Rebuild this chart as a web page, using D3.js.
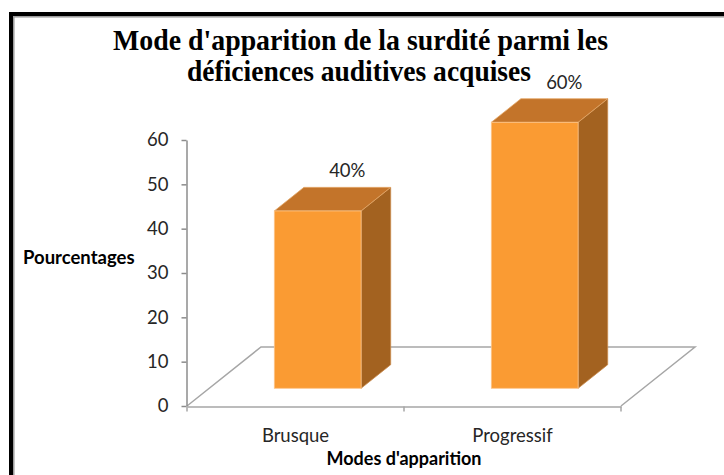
<!DOCTYPE html>
<html>
<head>
<meta charset="utf-8">
<script src="https://cdn.jsdelivr.net/npm/d3@7"></script>
<style>
  body { margin: 0; background: #fff; }
  svg { display: block; }
</style>
</head>
<body>
<div id="chart"></div>
<script>
var categories = ['Brusque', 'Progressif'];
var values = [40, 60];
var valueLabels = ['40%', '60%'];
var yTicks = [0, 10, 20, 30, 40, 50, 60];
var titleLines = ["Mode d'apparition de la surdité parmi les", 'déficiences auditives acquises'];

var width = 724, height = 475;
var floorDx = 74, floorDy = -59;   // depth of the 3D floor
var barFrom = 0.3, barTo = 0.7;    // bar depth inside the floor

var svg = d3.select('#chart').append('svg')
            .attr('width', width)
            .attr('height', height);

// frame (runs off the right and bottom edges)
svg.append('rect')
   .attr('x', 11).attr('y', 14)
   .attr('width', 800).attr('height', 600)
   .attr('fill', 'none')
   .attr('stroke', '#000')
   .attr('stroke-width', 4);
svg.append('rect')
   .attr('x', 13.8).attr('y', 16.8)
   .attr('width', 800).attr('height', 600)
   .attr('fill', 'none')
   .attr('stroke', '#9a9a9a')
   .attr('stroke-width', 1.5);

// title
svg.selectAll('.title')
   .data(titleLines)
   .enter()
   .append('text')
   .attr('class', 'title')
   .attr('x', function(d, i){ return i === 0 ? 113 : 187; })
   .attr('y', function(d, i){ return i === 0 ? 50 : 81; })
   .attr('textLength', function(d, i){ return i === 0 ? 495 : 344; })
   .attr('lengthAdjust', 'spacingAndGlyphs')
   .style('font-family', '"Liberation Serif", "Times New Roman", serif')
   .style('font-weight', 'bold')
   .style('font-size', '29px')
   .attr('fill', '#000')
   .text(function(d){ return d; });

var x = d3.scaleBand()
          .domain(categories)
          .range([187, 621])
          .paddingInner(0.6)
          .paddingOuter(0.3);

var y = d3.scaleLinear()
          .domain([0, 60])
          .range([406, 140]);

var x0 = x.range()[0], x1 = x.range()[1], y0 = y(0);

// floor outline
svg.append('path')
   .attr('d', 'M' + x0 + ',' + y0 +
              'L' + (x0 + floorDx) + ',' + (y0 + floorDy) +
              'L' + (x1 + floorDx) + ',' + (y0 + floorDy) +
              'L' + x1 + ',' + y0)
   .attr('fill', 'none')
   .attr('stroke', '#a6a6a6')
   .attr('stroke-width', 1.5);

// y axis
var yAxis = svg.append('g')
               .attr('transform', 'translate(186.5,0)')
               .call(d3.axisLeft(y).tickValues(yTicks).tickSize(5).tickSizeOuter(0).tickPadding(13));
yAxis.select('.domain').attr('stroke', '#8c8c8c').attr('stroke-width', 1.5);
yAxis.selectAll('.tick line').attr('stroke', '#8c8c8c').attr('stroke-width', 1.5);
yAxis.selectAll('.tick text')
     .style('font-family', 'Lato, sans-serif')
     .style('font-size', '18.5px')
     .attr('fill', '#262626');

// x axis line and tick marks at band edges
var xAxis = svg.append('g')
               .attr('transform', 'translate(0,' + (y0 + 0.5) + ')')
               .call(d3.axisBottom(x).tickSize(0).tickSizeOuter(0).tickPadding(22));
xAxis.select('.domain').attr('stroke', '#a6a6a6').attr('stroke-width', 1.5);
xAxis.selectAll('.tick text')
     .style('font-family', 'Lato, sans-serif')
     .style('font-size', '18.5px')
     .attr('fill', '#262626');
var edges = [x0, (x0 + x1) / 2, x1];
xAxis.selectAll('.edge')
     .data(edges)
     .enter()
     .append('line')
     .attr('class', 'edge')
     .attr('x1', function(d){ return d; })
     .attr('x2', function(d){ return d; })
     .attr('y1', 0)
     .attr('y2', 5)
     .attr('stroke', '#a6a6a6')
     .attr('stroke-width', 1.5);

// bars
var bdx = floorDx * (barTo - barFrom), bdy = floorDy * (barTo - barFrom);
var bars = svg.selectAll('.bar')
              .data(values)
              .enter()
              .append('g')
              .attr('class', 'bar');

bars.each(function(v, i){
    var g = d3.select(this);
    var left = x(categories[i]) + floorDx * barFrom;
    var right = left + x.bandwidth();
    var bottom = y(0) + floorDy * barFrom;
    var top = y(v) + floorDy * barFrom;

    g.append('polygon')
     .attr('points', [[right, top], [right + bdx, top + bdy], [right + bdx, bottom + bdy], [right, bottom]].join(' '))
     .attr('fill', '#a36220')
     .attr('stroke', '#c98a4c')
     .attr('stroke-width', 0.8);
    g.append('polygon')
     .attr('points', [[left, top], [left + bdx, top + bdy], [right + bdx, top + bdy], [right, top]].join(' '))
     .attr('fill', '#c3742a')
     .attr('stroke', '#e3a869')
     .attr('stroke-width', 0.8);
    g.append('rect')
     .attr('x', left)
     .attr('y', top)
     .attr('width', x.bandwidth())
     .attr('height', bottom - top)
     .attr('fill', '#fa9b33')
     .attr('stroke', '#fcc58a')
     .attr('stroke-width', 0.8);

    g.append('text')
     .attr('x', (left + right) / 2 + bdx)
     .attr('y', top + bdy - 10)
     .attr('text-anchor', 'middle')
     .style('font-family', 'Lato, sans-serif')
     .style('font-size', '18.5px')
     .attr('fill', '#262626')
     .text(valueLabels[i]);
});

// axis titles
svg.append('text')
   .attr('x', 23)
   .attr('y', 264)
   .style('font-family', 'Lato, sans-serif')
   .style('font-weight', 'bold')
   .style('font-size', '18.5px')
   .attr('fill', '#000')
   .text('Pourcentages');

svg.append('text')
   .attr('x', (x0 + x1) / 2)
   .attr('y', 465)
   .attr('text-anchor', 'middle')
   .style('font-family', 'Lato, sans-serif')
   .style('font-weight', 'bold')
   .style('font-size', '18px')
   .attr('fill', '#000')
   .text("Modes d'apparition");
</script>
</body>
</html>
